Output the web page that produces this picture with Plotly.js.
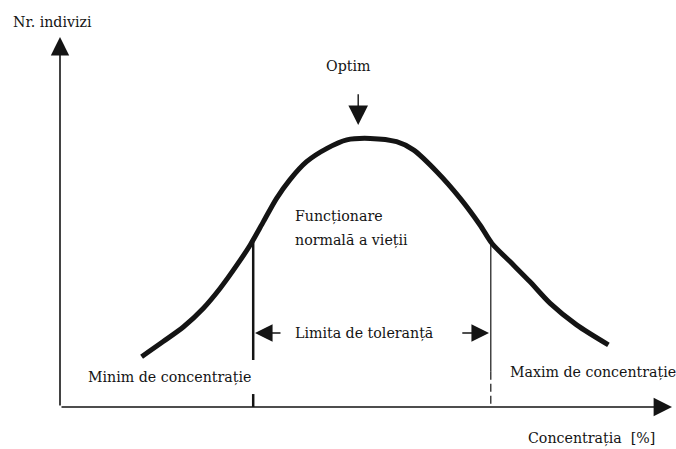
<!DOCTYPE html>
<html>
<head>
<meta charset="utf-8">
<script src="https://cdn.plot.ly/plotly-3.0.1.min.js"></script>
<style>html,body{margin:0;padding:0;background:#fff;}#chart{width:676px;height:449px;}</style>
</head>
<body>
<div id="chart"></div>
<script>
// Curve (concentration %, relative number of individuals)
var curveX = [13.6, 17.2, 20.6, 23.9, 26.7, 29.5, 31.7, 33.9, 36.1, 38.3, 41.1, 44.5, 47.8, 51.7, 56.1, 58.9, 62.8, 66.7, 70.0, 72.0, 75.0, 78.3, 81.7, 86.1, 91.4];
var curveY = [13.6, 17.7, 21.7, 26.7, 32.1, 38.4, 43.8, 50.1, 56.4, 61.4, 66.3, 69.9, 72.2, 72.6, 71.7, 69.5, 63.6, 56.4, 49.2, 44.2, 39.3, 33.9, 28.0, 22.2, 16.8];

// Tolerance limits (x) and curve height at each limit
var limitX = [32.2, 71.8];
var limitTop = [45.0, 43.8];
var optimX = 49.7;
var optimY = 73.0;

var labels = {
  yTitle: 'Nr. indivizi',
  xTitle: 'Concentrația  [%]',
  optim: 'Optim',
  normal1: 'Funcționare',
  normal2: 'normală a vieții',
  tolerance: 'Limita de toleranță',
  minim: 'Minim de concentrație',
  maxim: 'Maxim de concentrație'
};

var ink = '#141414';
var fnt = {family: 'DejaVu Serif', size: 14.2, color: ink};

var traces = [
  {x: curveX, y: curveY, mode: 'lines', line: {shape: 'spline', smoothing: 0.8, width: 5, color: ink}, hoverinfo: 'skip'},
  // left limit: solid part, then short dash near axis
  {x: [limitX[0], limitX[0]], y: [limitTop[0], 12.7], mode: 'lines', line: {width: 2.5, color: ink}},
  {x: [limitX[0], limitX[0]], y: [3.5, 0], mode: 'lines', line: {width: 2.5, color: ink}},
  // right limit: solid part, then dashed down to axis
  {x: [limitX[1], limitX[1]], y: [limitTop[1], 9.5], mode: 'lines', line: {width: 1.2, color: ink}},
  {x: [limitX[1], limitX[1]], y: [9.5, 0], mode: 'lines', line: {width: 1.2, color: ink, dash: '8px,4px'}}
];

function arrow(x, y, ax, ay, w, s) {
  return {x: x, y: y, ax: ax, ay: ay, xref: 'x', yref: 'y', axref: 'x', ayref: 'y',
    text: '', showarrow: true, arrowhead: 2, arrowsize: s, arrowwidth: w, arrowcolor: ink};
}
function label(t, x, y, anchor) {
  return {x: x, y: y, xref: 'x', yref: 'y', text: t, showarrow: false,
    xanchor: anchor || 'left', yanchor: 'middle', font: fnt};
}

var annotations = [
  arrow(0, 100, 0, 0, 1.6, 2.3),        // y axis
  arrow(102, 0, 0, 0, 1.6, 2.3),        // x axis
  arrow(optimX, optimY + 3.2, optimX, optimY + 11.9, 1.4, 2.8),
  arrow(limitX[0] + 0.3, 20, limitX[0] + 4.8, 20, 1.3, 2.7),
  arrow(limitX[1] - 0.3, 20, limitX[1] - 5, 20, 1.3, 2.7),
  label(labels.yTitle, -8.2, 104),
  label(labels.optim, 48, 92.2, 'center'),
  label(labels.normal1, 38.9, 51.6),
  label(labels.normal2, 38.9, 45.1),
  label(labels.tolerance, 38.9, 20),
  label(labels.minim, 4.4, 8.1),
  label(labels.maxim, 74.7, 9.2),
  label(labels.xTitle, 77.7, -8.4)
];

var layout = {
  width: 676, height: 449,
  margin: {l: 0, r: 0, t: 0, b: 0},
  paper_bgcolor: '#fff', plot_bgcolor: '#fff',
  showlegend: false,
  xaxis: {range: [-10, 102.667], visible: false, fixedrange: true},
  yaxis: {range: [-11.351, 110], visible: false, fixedrange: true},
  annotations: annotations
};

Plotly.newPlot('chart', traces, layout, {staticPlot: true, displayModeBar: false});
</script>
</body>
</html>
